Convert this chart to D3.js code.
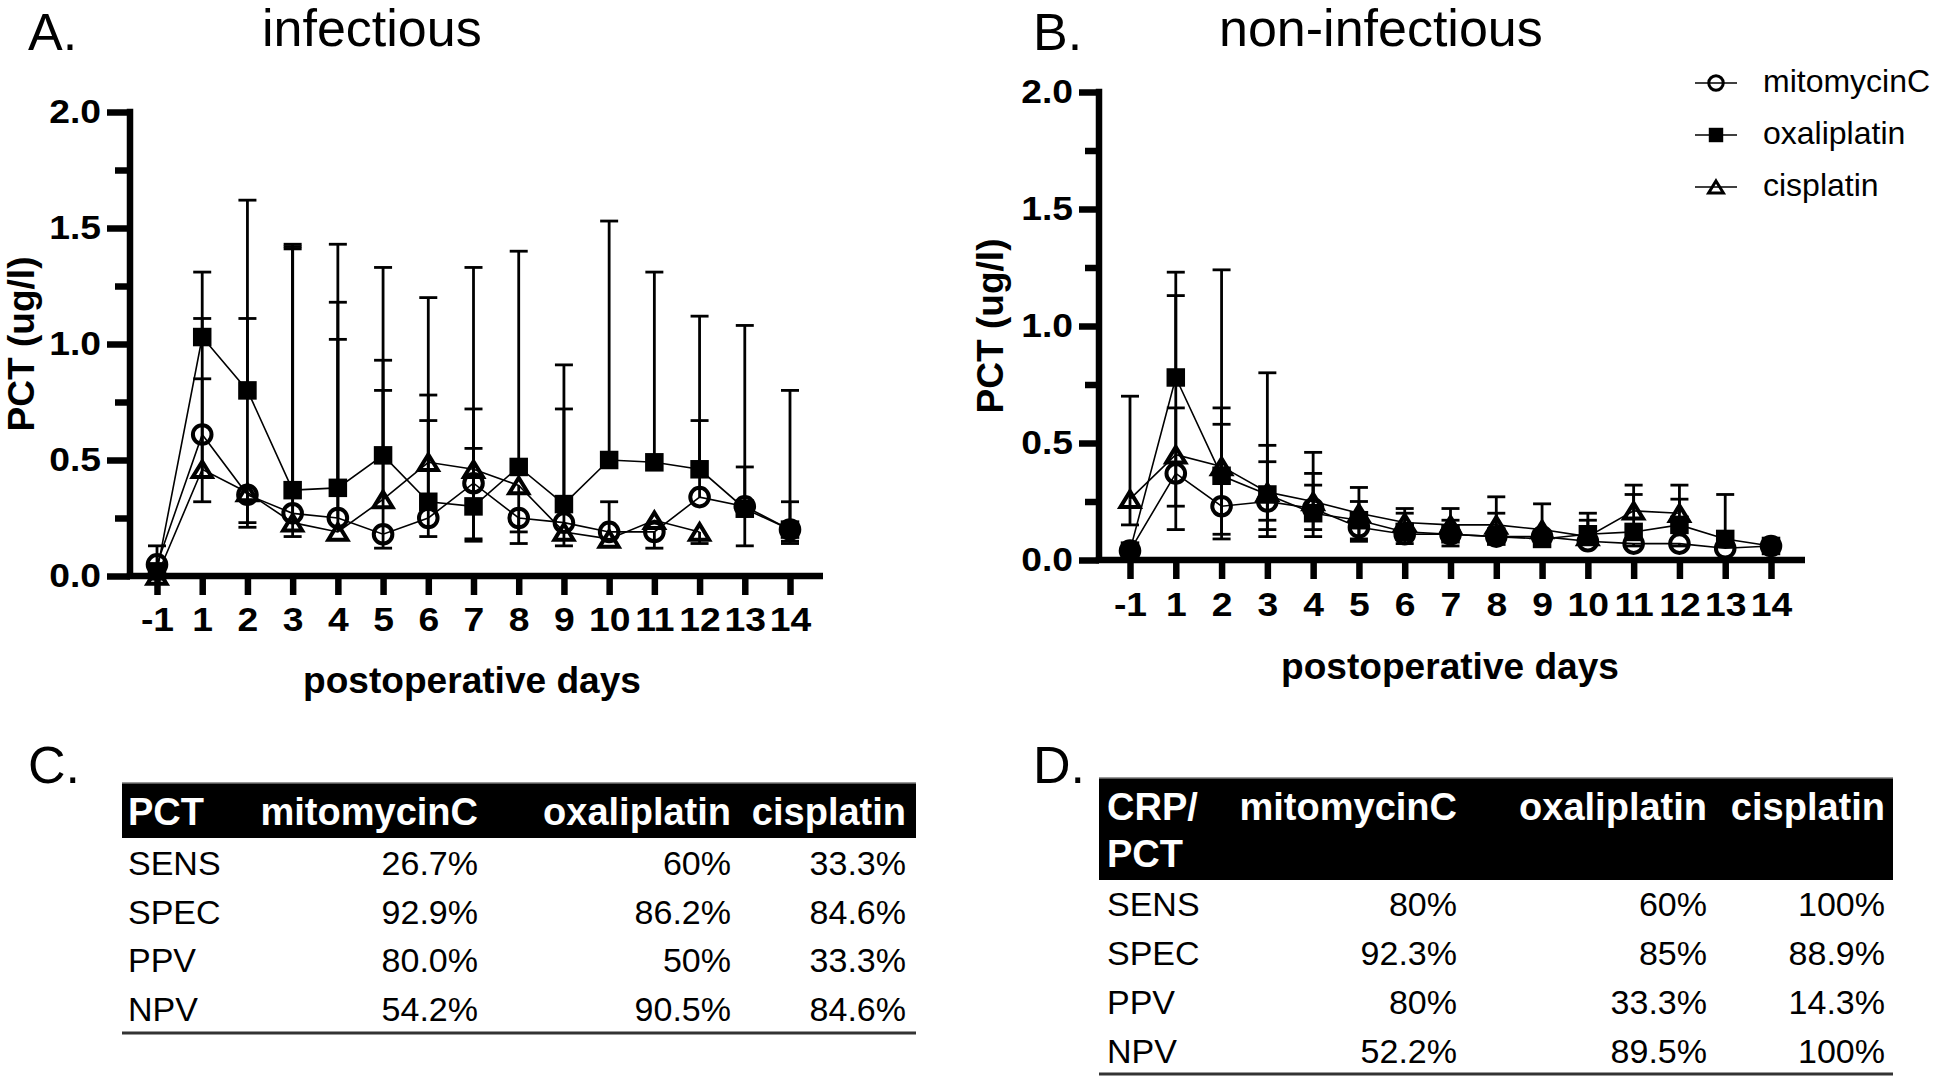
<!DOCTYPE html>
<html>
<head>
<meta charset="utf-8">
<script src="https://cdn.jsdelivr.net/npm/d3@7"></script>
<style>
body { margin: 0; background: #fff; }
svg { display: block; font-family: "Liberation Sans", Arial, Helvetica, sans-serif; }
</style>
</head>
<body>
<svg id="fig" width="1944" height="1080"></svg>
<script>
// x categories (postoperative days)
var days = ["-1", "1", "2", "3", "4", "5", "6", "7", "8", "9", "10", "11", "12", "13", "14"];
var yTicks = [0, 0.5, 1, 1.5, 2];
var yMinor = [0.25, 0.75, 1.25, 1.75];
var seriesNames = ["mitomycinC", "oxaliplatin", "cisplatin"];

// A. infectious - PCT (ug/l), with upper / lower error bar ends (null = not visible)
var infMito    = [0.05, 0.61, 0.35, 0.27, 0.25, 0.18, 0.25, 0.40, 0.25, 0.23, 0.19, 0.19, 0.34, 0.30, 0.20];
var infMitoHi  = [0.13, 1.11, 1.11, 1.42, 1.02, 0.80, 0.67, 0.72, null, 0.72, 0.32, null, 0.67, 0.47, 0.32];
var infMitoLo  = [null, 0.32, 0.21, null, null, 0.12, 0.17, 0.15, 0.14, null, null, 0.12, null, 0.13, 0.14];
var infOxali   = [0.02, 1.03, 0.80, 0.37, 0.38, 0.52, 0.32, 0.30, 0.47, 0.31, 0.50, 0.49, 0.46, 0.29, 0.20];
var infOxaliHi = [null, 1.31, 1.62, 1.43, 1.43, 1.33, 0.78, 0.55, 1.40, 0.91, 1.53, 1.31, 1.12, 1.08, 0.80];
var infOxaliLo = [null, null, null, null, null, null, null, null, null, null, null, null, null, null, 0.15];
var infCis     = [0.00, 0.46, 0.36, 0.23, 0.19, 0.33, 0.49, 0.46, 0.39, 0.19, 0.16, 0.24, 0.19, null, null];
var infCisHi   = [null, 0.85, null, 1.41, 1.18, 0.93, 1.20, 1.33, null, null, null, null, null, null, null];
var infCisLo   = [null, null, 0.23, 0.17, null, null, null, 0.16, 0.19, 0.13, null, null, 0.14, null, null];

// B. non-infectious
var nonMito    = [0.04, 0.37, 0.23, 0.25, 0.22, 0.14, 0.11, 0.11, 0.10, 0.10, 0.08, 0.07, 0.07, 0.05, 0.06];
var nonMitoHi  = [null, 0.65, 0.58, 0.42, 0.32, null, null, null, null, null, null, null, null, null, null];
var nonMitoLo  = [null, 0.13, 0.09, 0.10, null, 0.08, null, null, null, null, null, 0.06, 0.06, null, null];
var nonOxali   = [0.04, 0.78, 0.36, 0.28, 0.20, 0.17, 0.12, 0.11, 0.10, 0.09, 0.11, 0.12, 0.15, 0.09, 0.06];
var nonOxaliHi = [null, 1.23, 1.24, 0.80, 0.37, 0.25, 0.20, 0.17, 0.20, null, 0.20, 0.28, 0.26, 0.28, null];
var nonOxaliLo = [null, null, null, 0.17, 0.10, 0.09, 0.07, 0.06, null, null, null, null, null, null, null];
var nonCis     = [0.26, 0.45, 0.40, 0.29, 0.25, 0.20, 0.16, 0.15, 0.15, 0.13, 0.10, 0.21, 0.20, null, null];
var nonCisHi   = [0.70, 1.13, 0.65, 0.49, 0.46, 0.31, 0.22, 0.22, 0.27, 0.24, 0.17, 0.32, 0.32, null, null];
var nonCisLo   = [0.15, 0.23, 0.11, 0.13, 0.13, null, null, null, null, null, null, null, null, null, null];

// tables C and D
var rowLabels = ["SENS", "SPEC", "PPV", "NPV"];
var headC = ["PCT"];
var pctMito  = ["26.7%", "92.9%", "80.0%", "54.2%"];
var pctOxali = ["60%", "86.2%", "50%", "90.5%"];
var pctCis   = ["33.3%", "84.6%", "33.3%", "84.6%"];
var headD = ["CRP/", "PCT"];
var crpMito  = ["80%", "92.3%", "80%", "52.2%"];
var crpOxali = ["60%", "85%", "33.3%", "89.5%"];
var crpCis   = ["100%", "88.9%", "14.3%", "100%"];

var svg = d3.select("#fig");
svg.append("rect").attr("width", 1944).attr("height", 1080).attr("fill", "#fff");

var SX = 1.13;   // tick labels run a bit wider than plain Arial bold
var BOLD = 33;

function boldText(g, x, y, str, anchor, rot) {
	return g.append("text")
		.attr("transform", "translate(" + x + "," + y + ")" + (rot ? " rotate(" + rot + ")" : "") + " scale(1.03,1)")
		.attr("text-anchor", anchor || "start")
		.attr("font-size", 36)
		.attr("font-weight", "bold")
		.attr("fill", "#000")
		.text(str);
}

function plainText(g, x, y, str, size, anchor) {
	return g.append("text")
		.attr("x", x).attr("y", y)
		.attr("text-anchor", anchor || "start")
		.attr("font-size", size)
		.attr("fill", "#000")
		.text(str);
}

function marker(g, type, cx, cy, s) {
	var sw = s > 0.8 ? 4 : 3;
	if (type == "circle") {
		g.append("circle").attr("cx", cx).attr("cy", cy).attr("r", 9.3 * s)
			.attr("fill", "none").attr("stroke", "#000").attr("stroke-width", sw);
	} else if (type == "square") {
		var a = 18.5 * s;
		g.append("rect").attr("x", cx - a / 2).attr("y", cy - a / 2).attr("width", a).attr("height", a).attr("fill", "#000");
	} else {
		var w = 19 * s, h = 15.5 * s;
		g.append("path")
			.attr("d", "M" + cx + "," + (cy - h / 2) + "L" + (cx + w / 2) + "," + (cy + h / 2) + "L" + (cx - w / 2) + "," + (cy + h / 2) + "Z")
			.attr("fill", "none").attr("stroke", "#000").attr("stroke-width", sw).attr("stroke-linejoin", "miter");
	}
}

function panel(p) {
	var g = svg.append("g");
	var x = d3.scalePoint().domain(days).range([p.x0, p.x1]);
	var y = d3.scaleLinear().domain([0, 2]).range([p.yBase, p.yTop]);

	plainText(g, p.letterX, 50, p.letter, 52);
	plainText(g, p.titleX, 46, p.title, 52);

	// y axis
	g.append("g").attr("transform", "translate(" + p.ax + ",0)")
		.call(d3.axisLeft(y).tickValues(yMinor).tickSize(p.minorTick).tickSizeOuter(0).tickFormat(""))
		.call(function(a) { a.select(".domain").remove(); a.selectAll("text").remove(); })
		.selectAll("line").attr("stroke", "#000").attr("stroke-width", 6.5);

	g.append("g").attr("transform", "translate(" + p.ax + ",0)")
		.call(d3.axisLeft(y).tickValues(yTicks).tickSize(p.majorTick).tickSizeOuter(0).tickFormat(d3.format(".1f")))
		.call(function(a) {
			a.select(".domain").remove();
			a.attr("font-family", null).attr("font-size", null);
			a.selectAll("line").attr("stroke", "#000").attr("stroke-width", 6.5);
			a.selectAll("text")
				.attr("x", -p.labelGap / SX)
				.attr("transform", "scale(" + SX + ",1)")
				.attr("font-size", BOLD).attr("font-weight", "bold").attr("fill", "#000");
		});

	// x axis
	g.append("g").attr("transform", "translate(0," + p.yBase + ")")
		.call(d3.axisBottom(x).tickSize(19).tickSizeOuter(0).tickPadding(p.xPad))
		.call(function(a) {
			a.select(".domain").remove();
			a.attr("font-family", null).attr("font-size", null);
			a.selectAll("line").attr("stroke", "#000").attr("stroke-width", 6.5);
			a.selectAll("text")
				.attr("transform", "scale(" + SX + ",1)")
				.attr("font-size", BOLD).attr("font-weight", "bold").attr("fill", "#000");
		});

	g.append("line").attr("x1", p.ax).attr("x2", p.ax).attr("y1", p.yTop - 3.25).attr("y2", p.yBase)
		.attr("stroke", "#000").attr("stroke-width", 6.5);
	g.append("line").attr("x1", p.ax - 3.25).attr("x2", p.xEnd).attr("y1", p.yBase).attr("y2", p.yBase)
		.attr("stroke", "#000").attr("stroke-width", 6.5);

	boldText(g, p.yTitleX, (p.yBase + p.yTop) / 2, "PCT (ug/l)", "middle", -90);
	boldText(g, p.xTitleX, p.xTitleY, "postoperative days", "middle");

	var pts = p.series.map(function(s) {
		return days.map(function(d, i) { return {day: d, v: s.v[i], hi: s.hi[i], lo: s.lo[i]}; });
	});

	var line = d3.line()
		.defined(function(d) { return d.v != null; })
		.x(function(d) { return x(d.day); })
		.y(function(d) { return y(d.v); });

	pts.forEach(function(ps) {
		g.append("path").attr("d", line(ps)).attr("fill", "none").attr("stroke", "#000").attr("stroke-width", 1.6);
	});

	// error bars
	pts.forEach(function(ps) {
		ps.forEach(function(d) {
			if (d.v == null) return;
			[d.hi, d.lo].forEach(function(e) {
				if (e == null) return;
				g.append("line").attr("x1", x(d.day)).attr("x2", x(d.day)).attr("y1", y(d.v)).attr("y2", y(e))
					.attr("stroke", "#000").attr("stroke-width", 2.8);
				g.append("line").attr("x1", x(d.day) - 9).attr("x2", x(d.day) + 9).attr("y1", y(e)).attr("y2", y(e))
					.attr("stroke", "#000").attr("stroke-width", 2.8);
			});
		});
	});

	pts.forEach(function(ps, k) {
		ps.forEach(function(d) {
			if (d.v == null) return;
			marker(g, p.series[k].sym, x(d.day), y(d.v), 1);
		});
	});
}

panel({
	letter: "A.", letterX: 28, title: "infectious", titleX: 262,
	ax: 130, x0: 157, x1: 790, xEnd: 823, yBase: 576, yTop: 112,
	majorTick: 23, minorTick: 15, labelGap: 29, xPad: 13,
	yTitleX: 34, xTitleX: 472, xTitleY: 693,
	series: [
		{v: infMito, hi: infMitoHi, lo: infMitoLo, sym: "circle"},
		{v: infOxali, hi: infOxaliHi, lo: infOxaliLo, sym: "square"},
		{v: infCis, hi: infCisHi, lo: infCisLo, sym: "triangle"}
	]
});

panel({
	letter: "B.", letterX: 1033, title: "non-infectious", titleX: 1219,
	ax: 1099, x0: 1130, x1: 1771, xEnd: 1805, yBase: 560, yTop: 92,
	majorTick: 20, minorTick: 14, labelGap: 26, xPad: 14,
	yTitleX: 1003, xTitleX: 1450, xTitleY: 679,
	series: [
		{v: nonMito, hi: nonMitoHi, lo: nonMitoLo, sym: "circle"},
		{v: nonOxali, hi: nonOxaliHi, lo: nonOxaliLo, sym: "square"},
		{v: nonCis, hi: nonCisHi, lo: nonCisLo, sym: "triangle"}
	]
});

// legend
var legend = svg.append("g");
var legSyms = ["circle", "square", "triangle"];
seriesNames.forEach(function(name, i) {
	var ly = 83 + i * 52;
	legend.append("line").attr("x1", 1695).attr("x2", 1737).attr("y1", ly).attr("y2", ly)
		.attr("stroke", "#000").attr("stroke-width", 1.6);
	marker(legend, legSyms[i], 1716, ly, 0.78);
	plainText(legend, 1763, ly + 9, name, 32);
});

// tables
function table(t) {
	var g = svg.append("g");
	plainText(g, t.letterX, 783, t.letter, 52);
	g.append("rect").attr("x", t.x0).attr("y", t.barTop).attr("width", t.x1 - t.x0).attr("height", t.barBottom - t.barTop)
		.attr("fill", "#000");
	g.append("line").attr("x1", t.x0).attr("x2", t.x1).attr("y1", t.barTop).attr("y2", t.barTop)
		.attr("stroke", "#777").attr("stroke-width", 1.5);
	t.head.forEach(function(h, i) {
		g.append("text").attr("x", t.labelX).attr("y", t.headY + i * 47)
			.attr("font-size", 38).attr("font-weight", "bold").attr("fill", "#fff").text(h);
	});
	seriesNames.forEach(function(n, j) {
		g.append("text").attr("x", t.colRight[j]).attr("y", t.headY).attr("text-anchor", "end")
			.attr("font-size", 38).attr("font-weight", "bold").attr("fill", "#fff").text(n);
	});
	rowLabels.forEach(function(r, i) {
		var by = t.row0 + i * t.rowStep;
		plainText(g, t.labelX, by, r, 34);
		t.cols.forEach(function(c, j) {
			plainText(g, t.colRight[j], by, c[i], 34, "end");
		});
	});
	g.append("line").attr("x1", t.x0).attr("x2", t.x1).attr("y1", t.bottom).attr("y2", t.bottom)
		.attr("stroke", "#333").attr("stroke-width", 3);
}

table({
	letter: "C.", letterX: 28, head: headC,
	x0: 122, x1: 916, barTop: 783, barBottom: 838, headY: 825,
	labelX: 128, colRight: [478, 731, 906],
	row0: 875, rowStep: 48.6, bottom: 1033,
	cols: [pctMito, pctOxali, pctCis]
});

table({
	letter: "D.", letterX: 1033, head: headD,
	x0: 1099, x1: 1893, barTop: 778, barBottom: 880, headY: 820,
	labelX: 1107, colRight: [1457, 1707, 1885],
	row0: 916, rowStep: 48.9, bottom: 1074,
	cols: [crpMito, crpOxali, crpCis]
});
</script>
</body>
</html>
